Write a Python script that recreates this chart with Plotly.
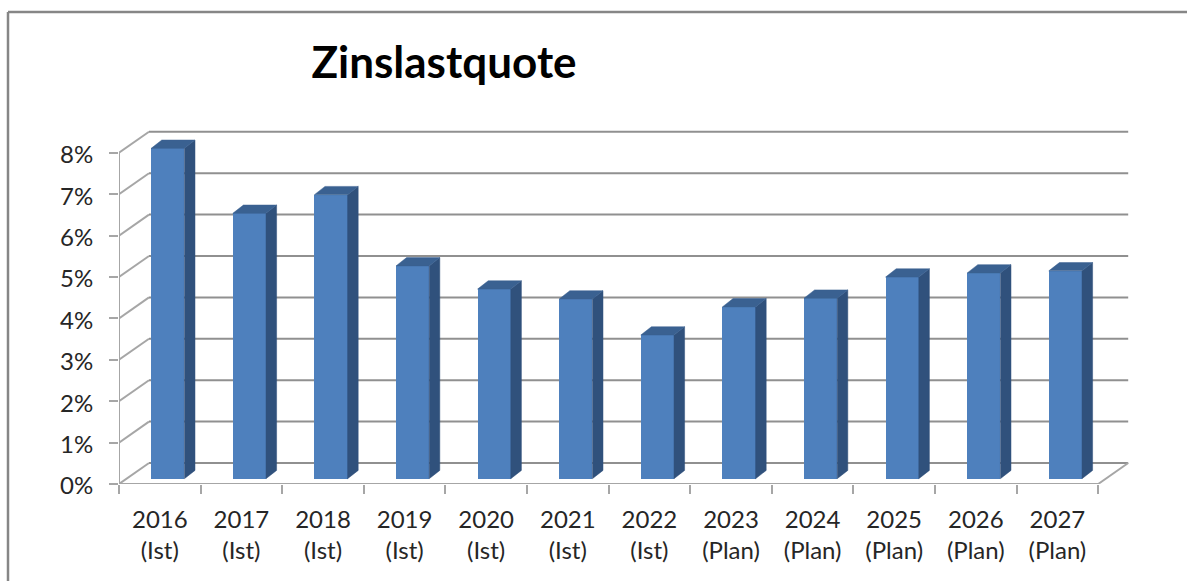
import plotly.graph_objects as go

# ---- data ----
years = ["2016", "2017", "2018", "2019", "2020", "2021", "2022", "2023", "2024", "2025", "2026", "2027"]
status = ["Ist", "Ist", "Ist", "Ist", "Ist", "Ist", "Ist", "Plan", "Plan", "Plan", "Plan", "Plan"]
values = [7.98, 6.41, 6.86, 5.14, 4.58, 4.34, 3.47, 4.15, 4.36, 4.87, 4.97, 5.02]
y_ticks = [0, 1, 2, 3, 4, 5, 6, 7, 8]
y_labels = ["0%", "1%", "2%", "3%", "4%", "5%", "6%", "7%", "8%"]
title = "Zinslastquote"

# ---- geometry (pixels per axis unit and faux-3D depth) ----
W, H = 1187, 581
X0, Y0 = 119, 484           # pixel of category 0 / 0 %
PX_CAT, PX_PCT = 81.6, 41.4
L, R, T = X0, 50, 100
x_max = (W - R - L) / PX_CAT
y_max = (Y0 - T) / PX_PCT
n = len(years)

wall_dx, wall_dy = 30 / PX_CAT, 21 / PX_PCT      # floor depth
bar_dx, bar_dy = 10.6 / PX_CAT, 8.3 / PX_PCT     # bar depth
off_dx, off_dy = 8 / PX_CAT, 5.3 / PX_PCT        # bar offset from front edge
bar_w = 33.2 / PX_CAT

FRONT, SIDE, TOP = "#4e80bd", "#30517c", "#3a6191"
GRID, WALL, FRAME = "#909090", "#a6a6a6", "#868686"
TEXT = "#262626"
FONT = "Lato, Carlito, 'Open Sans', sans-serif"

labels = [f"{y}<br>({s})" for y, s in zip(years, status)]
centers = [i + 0.5 for i in range(n)]
bar_x = [c + off_dx for c in centers]

fig = go.Figure()

# front faces
fig.add_trace(go.Bar(
    x=bar_x, y=values, base=[off_dy] * n, width=bar_w,
    marker=dict(color=FRONT, line=dict(width=0)),
    hoverinfo="skip", showlegend=False,
))

# side + top faces
sx, sy, tx, ty = [], [], [], []
for x, v in zip(bar_x, values):
    r, l = x + bar_w / 2, x - bar_w / 2
    b, t = off_dy, off_dy + v
    sx += [r, r + bar_dx, r + bar_dx, r, r, None]
    sy += [b, b + bar_dy, t + bar_dy, t, b, None]
    tx += [l, l + bar_dx, r + bar_dx, r, l, None]
    ty += [t, t + bar_dy, t + bar_dy, t, t, None]
for px, py, col in ((sx, sy, SIDE), (tx, ty, TOP)):
    fig.add_trace(go.Scatter(
        x=px, y=py, mode="lines", fill="toself", fillcolor=col,
        line=dict(color=col, width=0.5), hoverinfo="skip", showlegend=False,
    ))

# back-wall gridlines and side-wall diagonals, below the bars
shapes = []
def seg(x0, y0, x1, y1, color, width):
    shapes.append(dict(type="line", xref="x", yref="y", x0=x0, y0=y0, x1=x1, y1=y1,
                       layer="below", line=dict(color=color, width=width)))

for tick in y_ticks:
    seg(wall_dx, tick + wall_dy, n + wall_dx, tick + wall_dy, GRID, 2)
    seg(0, tick, wall_dx, tick + wall_dy, WALL, 2)
seg(0, 0, 0, y_ticks[-1], WALL, 2)                         # value-axis line
seg(0, 0, n, 0, WALL, 2)                                   # category-axis line
seg(n, 0, n + wall_dx, wall_dy, WALL, 2)                   # right floor edge

# outer chart frame (left + top only are visible in the crop)
for x0, y0, x1, y1 in ((8, 12, 8, H), (8, 12, W, 12)):
    shapes.append(dict(type="line", xref="paper", yref="paper",
                       x0=(x0 - L) / (W - L - R), x1=(x1 - L) / (W - L - R),
                       y0=(Y0 - y0) / (Y0 - T), y1=(Y0 - y1) / (Y0 - T),
                       layer="below", line=dict(color=FRAME, width=2.5)))

fig.update_layout(
    width=W, height=H,
    margin=dict(l=L, r=R, t=T, b=H - Y0, pad=0),
    paper_bgcolor="white", plot_bgcolor="white",
    font=dict(family=FONT, color=TEXT, size=24),
    bargap=0, showlegend=False,
    shapes=shapes,
    title=dict(text=f"<b>{title}</b>", x=444 / W, xanchor="center",
               y=1 - 63 / H, yanchor="middle",
               font=dict(family=FONT, size=44, color="#000000")),
    xaxis=dict(
        range=[0, x_max], tickmode="array", tickvals=centers, ticktext=labels,
        ticks="", showgrid=False, zeroline=False, showline=False,
        ticklabelstandoff=19,
        minor=dict(tickmode="array", tickvals=list(range(n + 1)), ticks="outside",
                   ticklen=9, tickwidth=2, tickcolor=WALL, showgrid=False),
        tickfont=dict(family=FONT, size=24, color=TEXT),
    ),
    yaxis=dict(
        range=[0, y_max], tickmode="array", tickvals=y_ticks, ticktext=y_labels,
        ticks="outside", ticklen=9, tickwidth=2, tickcolor=WALL,
        showgrid=False, zeroline=False, showline=False, ticklabelstandoff=11,
        ticklabelshift=2,
        tickfont=dict(family=FONT, size=24, color=TEXT),
    ),
)

fig.write_html("out.html", config={"displayModeBar": False},
               post_script="document.body.style.margin='0';document.body.style.overflow='hidden';")
